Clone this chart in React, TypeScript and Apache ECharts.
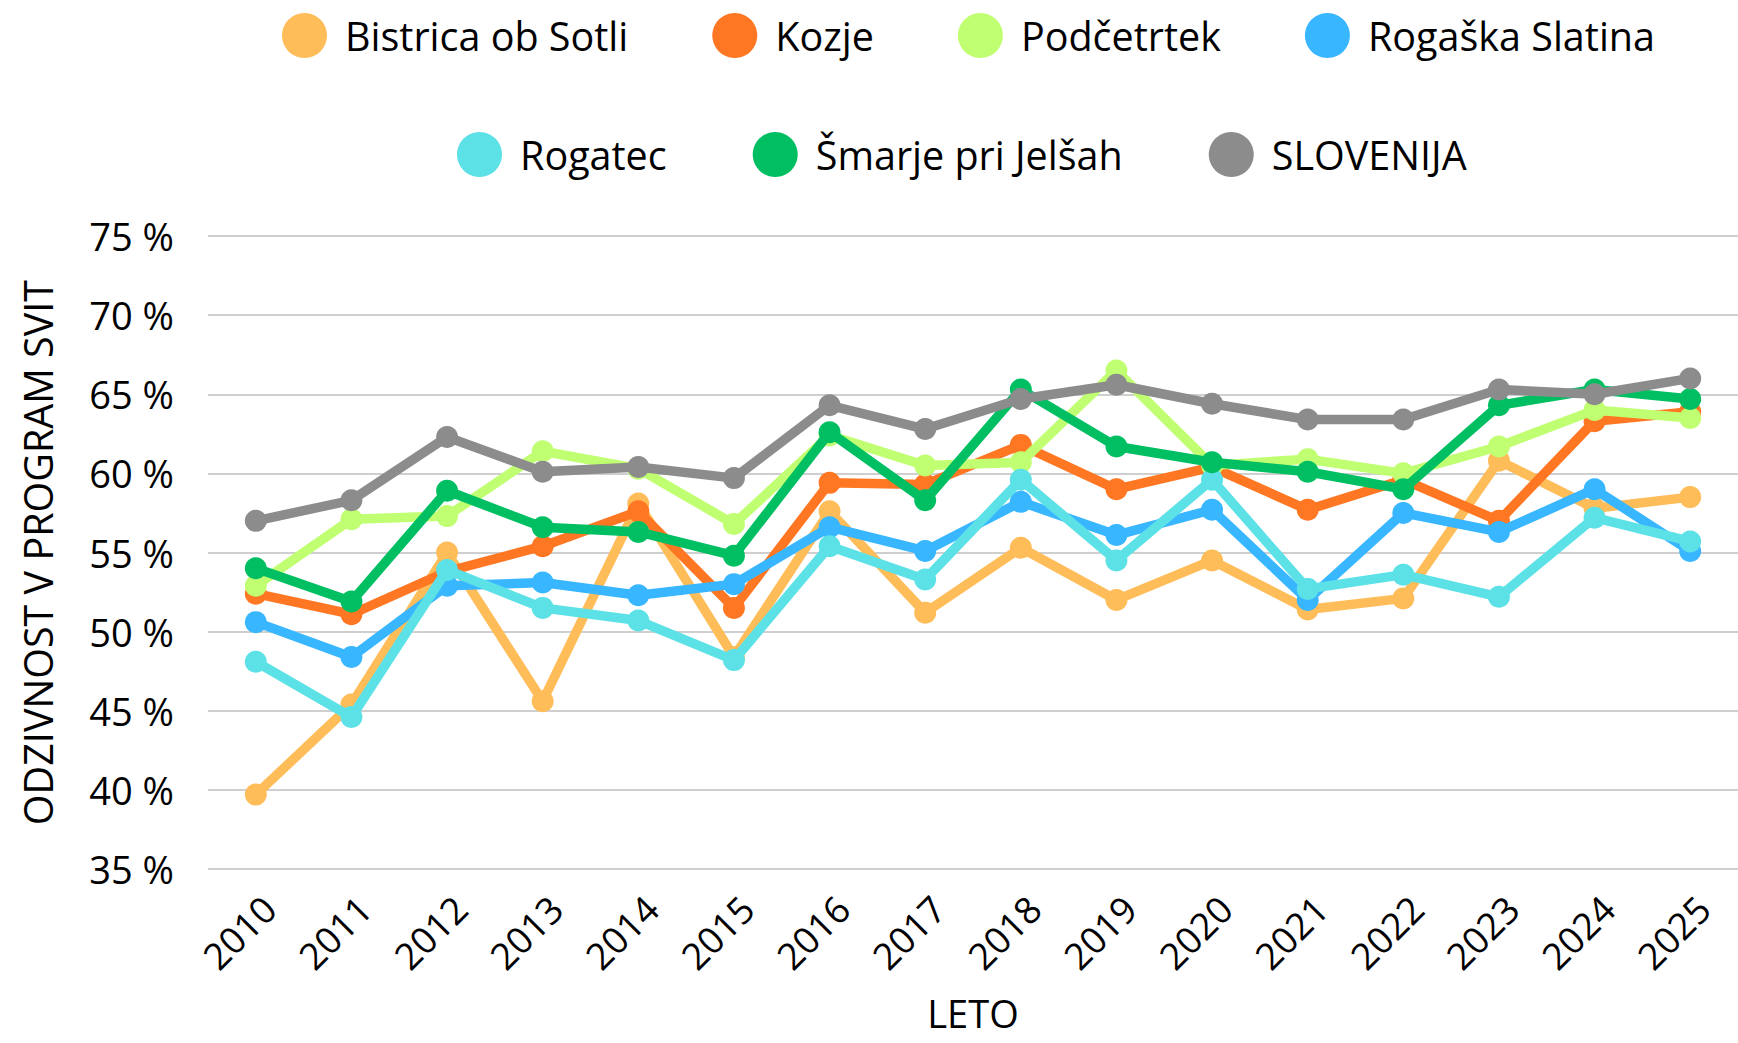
import React, { useEffect, useRef } from "react";
import * as echarts from "echarts";

const years = ["2010", "2011", "2012", "2013", "2014", "2015", "2016", "2017", "2018", "2019", "2020", "2021", "2022", "2023", "2024", "2025"];

const seriesNames = ["Bistrica ob Sotli", "Kozje", "Podčetrtek", "Rogaška Slatina", "Rogatec", "Šmarje pri Jelšah", "SLOVENIJA"];
const seriesColors = ["#FFBD59", "#FF7722", "#C1FF72", "#38B6FF", "#5CE1E6", "#00BF63", "#8C8C8C"];

const bistrica = [39.7, 45.4, 55.0, 45.6, 58.1, 48.4, 57.6, 51.2, 55.3, 52.0, 54.5, 51.4, 52.1, 60.8, 57.8, 58.5];
const kozje = [52.4, 51.1, 53.8, 55.4, 57.6, 51.5, 59.4, 59.3, 61.8, 59.0, 60.4, 57.7, 59.6, 57.0, 63.3, 63.9];
const podcetrtek = [52.9, 57.1, 57.3, 61.4, 60.3, 56.8, 62.4, 60.5, 60.7, 66.5, 60.5, 60.9, 60.0, 61.7, 64.0, 63.5];
const rogaska = [50.6, 48.4, 52.9, 53.1, 52.3, 53.0, 56.6, 55.1, 58.2, 56.1, 57.7, 52.0, 57.5, 56.3, 59.0, 55.1];
const rogatec = [48.1, 44.6, 53.9, 51.5, 50.7, 48.2, 55.4, 53.3, 59.6, 54.5, 59.6, 52.7, 53.6, 52.2, 57.2, 55.7];
const smarje = [54.0, 51.9, 58.9, 56.6, 56.3, 54.8, 62.6, 58.3, 65.3, 61.7, 60.7, 60.1, 59.0, 64.3, 65.3, 64.7];
const slovenija = [57.0, 58.3, 62.3, 60.1, 60.4, 59.7, 64.3, 62.8, 64.7, 65.6, 64.4, 63.4, 63.4, 65.3, 65.0, 66.0];

const allSeries = [bistrica, kozje, podcetrtek, rogaska, rogatec, smarje, slovenija];

const yTicks = [35, 40, 45, 50, 55, 60, 65, 70, 75];

const FONT = "'Open Sans', 'Noto Sans', sans-serif";

export default function App() {
  const ref = useRef<HTMLDivElement>(null);
  useEffect(() => {
    if (!ref.current) return;
    const chart = echarts.init(ref.current, null, { renderer: "svg" });
    const legendCommon = {
      icon: "circle",
      itemWidth: 45,
      itemHeight: 45,
      itemGap: 84,
      orient: "horizontal",
      padding: 0,
      textStyle: {
        fontFamily: FONT,
        fontSize: 39.5,
        color: "#000",
        padding: [0, 0, 0, 13],
      },
    };
    chart.setOption({
      animation: false,
      backgroundColor: "#fff",
      color: seriesColors,
      legend: [
        { ...legendCommon, left: 282, top: 13, data: seriesNames.slice(0, 4) },
        { ...legendCommon, left: 457, top: 132, itemGap: 86, data: seriesNames.slice(4) },
      ],
      grid: {
        left: 208,
        top: 236,
        width: 1539,
        height: 633,
        containLabel: false,
      },
      xAxis: {
        type: "category",
        data: years,
        boundaryGap: true,
        name: "LETO",
        nameLocation: "middle",
        nameGap: 127,
        nameTextStyle: { fontFamily: FONT, fontSize: 38, lineHeight: 34, color: "#000" },
        axisLine: { show: false },
        axisTick: { show: false },
        axisLabel: {
          rotate: 45,
          margin: 20,
          verticalAlign: "top",
          fontFamily: FONT,
          fontSize: 37,
          color: "#000",
          interval: 0,
        },
      },
      yAxis: {
        type: "value",
        min: yTicks[0],
        max: yTicks[yTicks.length - 1],
        interval: 5,
        name: "ODZIVNOST V PROGRAM SVIT",
        nameLocation: "middle",
        nameGap: 150,
        nameTextStyle: { fontFamily: FONT, fontSize: 39.5, color: "#000" },
        axisLine: { show: false },
        axisTick: { show: false },
        splitLine: { lineStyle: { color: "#CFCFCF", width: 2 } },
        axisLabel: {
          margin: 34,
          fontFamily: FONT,
          fontSize: 38,
          color: "#000",
          formatter: (v: number) => `${v} %`,
        },
      },
      series: allSeries.map((d, i) => ({
        name: seriesNames[i],
        type: "line",
        data: d,
        symbol: "circle",
        symbolSize: 22,
        lineStyle: { width: 9.5, color: seriesColors[i] },
        itemStyle: { color: seriesColors[i] },
        z: 2 + i,
      })),
    });
    return () => chart.dispose();
  }, []);
  return (
    <div
      ref={ref}
      style={{ position: "absolute", left: 0, top: 0, width: 1738, height: 1043 }}
    />
  );
}
